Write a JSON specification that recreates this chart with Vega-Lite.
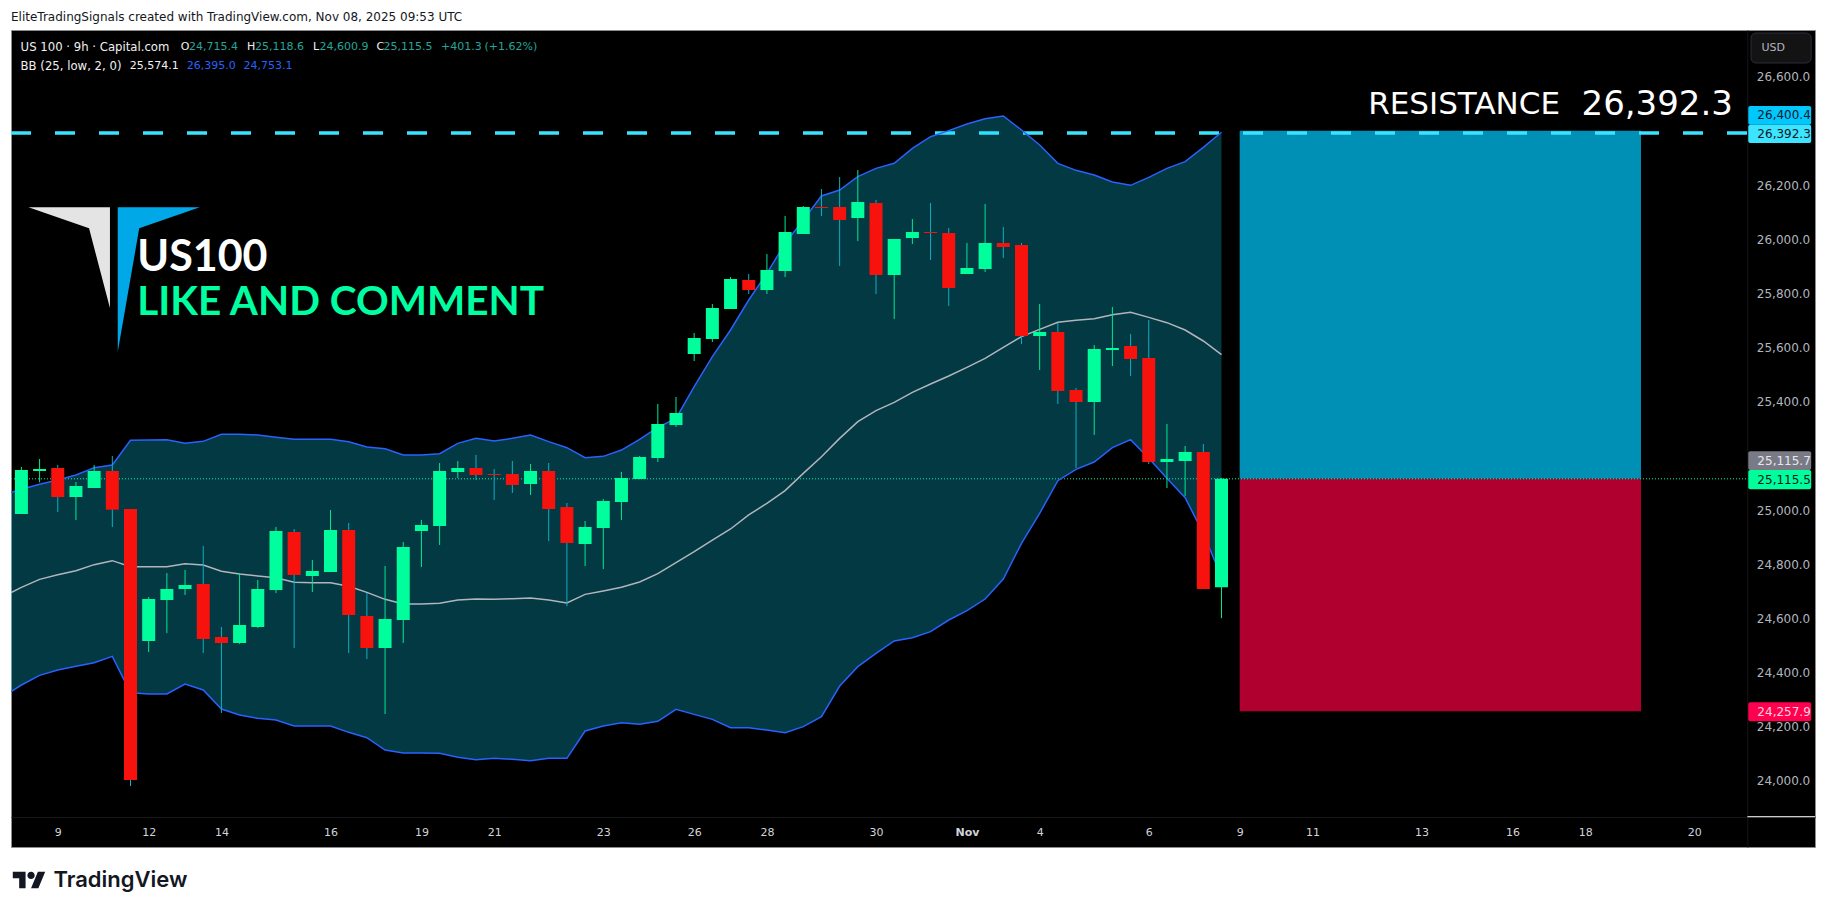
{"$schema":"https://vega.github.io/schema/vega-lite/v6.json","width":1804,"height":817,"autosize":{"type":"none"},"padding":{"left":11,"top":30,"right":11,"bottom":66},"background":"#ffffff","view":{"fill":"#000000","stroke":"#8c8c8c"},"config":{"scale":{"continuousPadding":0}},"resolve":{"scale":{"color":"independent"},"axis":{"x":"independent","y":"independent"}},
"datasets":{
"candles":[
{"i":0,"o":24985.6,"h":25159.1,"l":24985.6,"c":25148.1,"dir":"up"},{"i":1,"o":25144.4,"h":25188.7,"l":25102.5,"c":25151.8,"dir":"up"},{"i":2,"o":25155.5,"h":25166.5,"l":24993,"c":25048.4,"dir":"down"},{"i":3,"o":25048.4,"h":25103.8,"l":24963.5,"c":25089,"dir":"up"},{"i":4,"o":25081.6,"h":25166.5,"l":25081.6,"c":25144.4,"dir":"up"},{"i":5,"o":25144.4,"h":25199.8,"l":24937.6,"c":25001.6,"dir":"down"},{"i":6,"o":25004.1,"h":25004.1,"l":23981.4,"c":24003.6,"dir":"down"},{"i":7,"o":24516.8,"h":24679.2,"l":24476.2,"c":24671.8,"dir":"up"},{"i":8,"o":24668.1,"h":24767.8,"l":24546.3,"c":24708.7,"dir":"up"},{"i":9,"o":24708.7,"h":24778.9,"l":24686.6,"c":24723.5,"dir":"up"},
{"i":10,"o":24727.2,"h":24867.5,"l":24472.5,"c":24524.2,"dir":"down"},{"i":11,"o":24531.5,"h":24568.5,"l":24251,"c":24509.4,"dir":"down"},{"i":12,"o":24509.4,"h":24767.8,"l":24505.7,"c":24575.8,"dir":"up"},{"i":13,"o":24568.5,"h":24742,"l":24564.8,"c":24708.7,"dir":"up"},{"i":14,"o":24705,"h":24937.6,"l":24694,"c":24922.9,"dir":"up"},{"i":15,"o":24919.2,"h":24930.3,"l":24490.9,"c":24760.4,"dir":"down"},{"i":16,"o":24756.7,"h":24815.8,"l":24697.7,"c":24775.2,"dir":"up"},{"i":17,"o":24771.5,"h":25000.4,"l":24771.5,"c":24926.6,"dir":"up"},{"i":18,"o":24926.6,"h":24952.4,"l":24472.5,"c":24612.8,"dir":"down"},{"i":19,"o":24609.1,"h":24694,"l":24450.3,"c":24490.9,"dir":"down"},
{"i":20,"o":24490.9,"h":24793.7,"l":24247.3,"c":24598,"dir":"up"},{"i":21,"o":24594.3,"h":24882.3,"l":24509.4,"c":24863.8,"dir":"up"},{"i":22,"o":24922.9,"h":24963.5,"l":24790,"c":24945,"dir":"up"},{"i":23,"o":24941.3,"h":25173.9,"l":24871.2,"c":25144.4,"dir":"up"},{"i":24,"o":25140.7,"h":25181.3,"l":25118.5,"c":25155.5,"dir":"up"},{"i":25,"o":25155.5,"h":25203.4,"l":25111.2,"c":25129.6,"dir":"down"},{"i":26,"o":25133.3,"h":25151.8,"l":25037.3,"c":25129.6,"dir":"down"},{"i":27,"o":25133.3,"h":25181.3,"l":25063.2,"c":25092.7,"dir":"down"},{"i":28,"o":25096.4,"h":25170.2,"l":25055.8,"c":25144.4,"dir":"up"},{"i":29,"o":25144.4,"h":25173.9,"l":24886,"c":25004.1,"dir":"down"},
{"i":30,"o":25011.5,"h":25026.2,"l":24646,"c":24878.6,"dir":"down"},{"i":31,"o":24874.9,"h":24959.8,"l":24793.7,"c":24937.6,"dir":"up"},{"i":32,"o":24934,"h":25041,"l":24782.6,"c":25033.6,"dir":"up"},{"i":33,"o":25029.9,"h":25140.7,"l":24963.5,"c":25118.5,"dir":"up"},{"i":34,"o":25114.9,"h":25199.8,"l":25113.6,"c":25196.1,"dir":"up"},{"i":35,"o":25192.4,"h":25391.7,"l":25177.6,"c":25317.9,"dir":"up"},{"i":36,"o":25314.1,"h":25417.5,"l":25306.7,"c":25358.4,"dir":"up"},{"i":37,"o":25576.2,"h":25653.8,"l":25550.4,"c":25635.3,"dir":"up"},{"i":38,"o":25631.6,"h":25760.8,"l":25620.6,"c":25746.1,"dir":"up"},{"i":39,"o":25742.4,"h":25860.5,"l":25742.4,"c":25853.2,"dir":"up"},
{"i":40,"o":25849.5,"h":25871.6,"l":25797.8,"c":25812.5,"dir":"down"},{"i":41,"o":25812.5,"h":25945.4,"l":25797.8,"c":25886.4,"dir":"up"},{"i":42,"o":25882.7,"h":26085.7,"l":25860.5,"c":26026.7,"dir":"up"},{"i":43,"o":26019.3,"h":26122.6,"l":26019.3,"c":26118.9,"dir":"up"},{"i":44,"o":26118.9,"h":26185.4,"l":26085.7,"c":26115.3,"dir":"down"},{"i":45,"o":26118.9,"h":26229.7,"l":25901.1,"c":26071,"dir":"down"},{"i":46,"o":26078.3,"h":26255.6,"l":25993.4,"c":26137.4,"dir":"up"},{"i":47,"o":26133.7,"h":26144.8,"l":25797.8,"c":25867.9,"dir":"down"},{"i":48,"o":25867.9,"h":26000.8,"l":25705.5,"c":26000.8,"dir":"up"},{"i":49,"o":26004.5,"h":26074.7,"l":25982.4,"c":26026.7,"dir":"up"},
{"i":50,"o":26026.7,"h":26133.7,"l":25923.3,"c":26023,"dir":"down"},{"i":51,"o":26023,"h":26041.4,"l":25753.5,"c":25819.9,"dir":"down"},{"i":52,"o":25871.6,"h":25986,"l":25871.6,"c":25893.8,"dir":"up"},{"i":53,"o":25890.1,"h":26130,"l":25879,"c":25986,"dir":"up"},{"i":54,"o":25986,"h":26045,"l":25930.7,"c":25971.3,"dir":"down"},{"i":55,"o":25978.7,"h":25986,"l":25613.2,"c":25642.7,"dir":"down"},{"i":56,"o":25642.7,"h":25760.8,"l":25517.2,"c":25657.5,"dir":"up"},{"i":57,"o":25657.5,"h":25690.7,"l":25391.7,"c":25439.6,"dir":"down"},{"i":58,"o":25443.4,"h":25450.7,"l":25155.4,"c":25399,"dir":"down"},{"i":59,"o":25399,"h":25609.5,"l":25277.2,"c":25594.7,"dir":"up"},
{"i":60,"o":25591,"h":25749.8,"l":25531.9,"c":25598.4,"dir":"up"},{"i":61,"o":25605.8,"h":25650.1,"l":25495,"c":25557.8,"dir":"down"},{"i":62,"o":25561.5,"h":25701.8,"l":25170.2,"c":25177.6,"dir":"down"},{"i":63,"o":25177.6,"h":25317.8,"l":25081.6,"c":25188.7,"dir":"up"},{"i":64,"o":25181.2,"h":25236.6,"l":25052.1,"c":25214.5,"dir":"up"},{"i":65,"o":25214.5,"h":25244,"l":24708.7,"c":24708.7,"dir":"down"},{"i":66,"o":24715.4,"h":25118.6,"l":24600.9,"c":25115.5,"dir":"up"}],
"bb":[
{"i":-1,"upper":25055.8,"basis":24680.4,"lower":24311.3},{"i":0,"upper":25076.7,"basis":24714.9,"lower":24354.3},{"i":1,"upper":25095.2,"basis":24744.4,"lower":24390},{"i":2,"upper":25111.2,"basis":24761.7,"lower":24409.7},{"i":3,"upper":25129.6,"basis":24776.4,"lower":24423.3},{"i":4,"upper":25156.7,"basis":24798.6,"lower":24436.8},{"i":5,"upper":25166.5,"basis":24813.4,"lower":24460.2},{"i":6,"upper":25257.6,"basis":24791.2,"lower":24326},{"i":7,"upper":25258.8,"basis":24791.2,"lower":24321.1},{"i":8,"upper":25260.1,"basis":24791.2,"lower":24321.1},{"i":9,"upper":25246.5,"basis":24802.3,"lower":24358},
{"i":10,"upper":25253.9,"basis":24797.3,"lower":24335.9},{"i":11,"upper":25279.7,"basis":24774,"lower":24265.8},{"i":12,"upper":25279.7,"basis":24764.1,"lower":24243.6},{"i":13,"upper":25277.3,"basis":24756.7,"lower":24231.3},{"i":14,"upper":25268.7,"basis":24750.6,"lower":24225.1},{"i":15,"upper":25261.3,"basis":24733.3,"lower":24203},{"i":16,"upper":25261.3,"basis":24732.1,"lower":24203},{"i":17,"upper":25261.3,"basis":24732.1,"lower":24203},{"i":18,"upper":25252.7,"basis":24718.6,"lower":24179.6},{"i":19,"upper":25233,"basis":24696.4,"lower":24159.9},
{"i":20,"upper":25226.8,"basis":24670.6,"lower":24114.4},{"i":21,"upper":25203.4,"basis":24653.4,"lower":24103.3},{"i":22,"upper":25203.4,"basis":24653.4,"lower":24103.3},{"i":23,"upper":25208.4,"basis":24655.8,"lower":24102.1},{"i":24,"upper":25246.5,"basis":24668.1,"lower":24087.3},{"i":25,"upper":25265,"basis":24671.8,"lower":24078.7},{"i":26,"upper":25255.1,"basis":24670.6,"lower":24083.6},{"i":27,"upper":25265,"basis":24673,"lower":24079.9},{"i":28,"upper":25277.3,"basis":24675.5,"lower":24075},{"i":29,"upper":25252.7,"basis":24668.1,"lower":24083.6},
{"i":30,"upper":25230.5,"basis":24657,"lower":24083.6},{"i":31,"upper":25193.6,"basis":24689,"lower":24184.5},{"i":32,"upper":25198.5,"basis":24701.4,"lower":24203},{"i":33,"upper":25221.8,"basis":24714.9,"lower":24215.3},{"i":34,"upper":25261.2,"basis":24734.6,"lower":24209.1},{"i":35,"upper":25305.5,"basis":24765.3,"lower":24220.2},{"i":36,"upper":25338.7,"basis":24806,"lower":24264.5},{"i":37,"upper":25455.7,"basis":24846.6,"lower":24246},{"i":38,"upper":25566.4,"basis":24889.6,"lower":24227.6},{"i":39,"upper":25664.9,"basis":24930.3,"lower":24196.8},
{"i":40,"upper":25775.6,"basis":24982,"lower":24196.8},{"i":41,"upper":25874.1,"basis":25025,"lower":24188.2},{"i":42,"upper":25984.8,"basis":25071.8,"lower":24178.4},{"i":43,"upper":26071,"basis":25135.7,"lower":24200.5},{"i":44,"upper":26159.6,"basis":25197.2,"lower":24237.4},{"i":45,"upper":26181.7,"basis":25264.9,"lower":24350.6},{"i":46,"upper":26231,"basis":25326.4,"lower":24422},{"i":47,"upper":26261.7,"basis":25367.1,"lower":24471.2},{"i":48,"upper":26280.2,"basis":25397.8,"lower":24516.8},{"i":49,"upper":26335.5,"basis":25434.7,"lower":24529.1},
{"i":50,"upper":26378.6,"basis":25465.5,"lower":24551.2},{"i":51,"upper":26400.8,"basis":25495,"lower":24594.3},{"i":52,"upper":26425.4,"basis":25527,"lower":24628.8},{"i":53,"upper":26445.1,"basis":25560.2,"lower":24671.8},{"i":54,"upper":26454.9,"basis":25600.9,"lower":24745.7},{"i":55,"upper":26403.2,"basis":25640.3,"lower":24877.4},{"i":56,"upper":26347.8,"basis":25667.4,"lower":24988.1},{"i":57,"upper":26280.2,"basis":25693.2,"lower":25108.7},{"i":58,"upper":26254.3,"basis":25700.6,"lower":25150.5},{"i":59,"upper":26237.1,"basis":25706.7,"lower":25177.6},
{"i":60,"upper":26211.3,"basis":25721.5,"lower":25230.5},{"i":61,"upper":26199,"basis":25730.1,"lower":25260},{"i":62,"upper":26228.5,"basis":25711.6,"lower":25191.1},{"i":63,"upper":26261.7,"basis":25692,"lower":25117.3},{"i":64,"upper":26286.3,"basis":25664.9,"lower":25045.9},{"i":65,"upper":26339.2,"basis":25624.3,"lower":24914.3},{"i":66,"upper":26395,"basis":25574.1,"lower":24753.1}],
"small":[
{"t":"O","i":8.76,"price":26710.8,"kind":"white"},{"t":"24,715.4","i":9.22,"price":26710.8,"kind":"teal"},{"t":"H","i":12.41,"price":26710.8,"kind":"white"},{"t":"25,118.6","i":12.85,"price":26710.8,"kind":"teal"},{"t":"L","i":16.04,"price":26710.8,"kind":"white"},{"t":"24,600.9","i":16.4,"price":26710.8,"kind":"teal"},{"t":"C","i":19.53,"price":26710.8,"kind":"white"},{"t":"25,115.5","i":19.92,"price":26710.8,"kind":"teal"},{"t":"+401.3","i":23.08,"price":26710.8,"kind":"teal"},{"t":"(+1.62%)","i":25.47,"price":26710.8,"kind":"teal"},
{"t":"25,574.1","i":5.957,"price":26640.6,"kind":"white"},{"t":"26,395.0","i":9.09,"price":26640.6,"kind":"blue"},{"t":"24,753.1","i":12.22,"price":26640.6,"kind":"blue"},
{"t":"USD","i":95.7,"price":26706,"kind":"grey"}],
"tags":[
{"t":"26,400.4","i0":94.97,"i1":98.43,"it":95.47,"top":26491.8,"bot":26422.8,"mid":26457.5,"kind":"A"},
{"t":"26,392.3","i0":94.97,"i1":98.43,"it":95.47,"top":26422.8,"bot":26355.2,"mid":26389,"kind":"B"},
{"t":"25,115.7","i0":94.97,"i1":98.43,"it":95.47,"top":25217,"bot":25148,"mid":25182.7,"kind":"C"},
{"t":"25,115.5","i0":94.97,"i1":98.43,"it":95.47,"top":25148,"bot":25076.8,"mid":25112.6,"kind":"D"},
{"t":"24,257.9","i0":94.97,"i1":98.43,"it":95.47,"top":24290.5,"bot":24220.4,"mid":24255.4,"kind":"E"}],
"boxes":[{"i0":67,"i1":89.07,"top":26400.4,"bot":25115.5,"kind":"target"},{"i0":67,"i1":89.07,"top":25115.5,"bot":24257.9,"kind":"stop"}]
},
"layer":[
{"data":{"name":"boxes"},"mark":{"type":"rect"},"encoding":{"x":{"field":"i0","type":"quantitative","scale":{"domain":[-0.572,98.64],"nice":false,"zero":false},"axis":{"title":null,"orient":"bottom","offset":-30,"values":[2,7,11,17,22,26,32,37,41,47,52,56,62,67,71,77,82,86,92],"labelExpr":"({'2':'9','7':'12','11':'14','17':'16','22':'19','26':'21','32':'23','37':'26','41':'28','47':'30','52':'Nov','56':'4','62':'6','67':'9','71':'11','77':'13','82':'16','86':'18','92':'20'})[datum.value]","labelFont":"DejaVu Sans","labelFontSize":11,"labelColor":"#d1d4dc","labelFontWeight":{"condition":{"test":"datum.value===52","value":"bold"},"value":"normal"},"labelPadding":9,"labelOverlap":false,"labelBound":false,"labelFlush":false,"ticks":false,"grid":false,"domain":true,"domainColor":"#161616"}},"x2":{"field":"i1"},"y":{"field":"top","type":"quantitative","scale":{"domain":[23756.3,26772.4],"nice":false,"zero":false},"axis":{"title":null,"orient":"right","offset":-67.7,"values":[24000,24200,24400,24600,24800,25000,25400,25600,25800,26000,26200,26600],"format":",.1f","labelFont":"DejaVu Sans","labelFontSize":12,"labelColor":"#b2b5be","labelAlign":"left","labelPadding":9,"labelOverlap":false,"labelBound":false,"labelFlush":false,"ticks":false,"grid":false,"domain":true,"domainColor":"#161616"}},"y2":{"field":"bot"},"color":{"field":"kind","type":"nominal","scale":{"domain":["target","stop"],"range":["#008fb5","#b00030"]},"legend":null}}},
{"data":{"values":[{"from":-0.572,"to":94.92,"price":26392.3}]},"mark":{"type":"rule","color":"#38e4ff","strokeWidth":3.5,"strokeDash":[20,24]},"encoding":{"x":{"field":"from","type":"quantitative","axis":null},"x2":{"field":"to"},"y":{"field":"price","type":"quantitative","axis":null}}},
{"data":{"values":[{"from":-0.572,"to":94.92,"price":25115.5}]},"mark":{"type":"rule","color":"#00ffa0","strokeWidth":1,"strokeDash":[1,2]},"encoding":{"x":{"field":"from","type":"quantitative","axis":null},"x2":{"field":"to"},"y":{"field":"price","type":"quantitative","axis":null}}},
{"data":{"values":[{"from":94.92,"to":98.64,"price":23868.1}]},"mark":{"type":"rule","color":"#ffffff","strokeWidth":1},"encoding":{"x":{"field":"from","type":"quantitative","axis":null},"x2":{"field":"to"},"y":{"field":"price","type":"quantitative","axis":null}}},
{"data":{"name":"bb"},"mark":{"type":"area","color":"#08dcff","opacity":0.26,"clip":true},"encoding":{"x":{"field":"i","type":"quantitative","axis":null},"y":{"field":"upper","type":"quantitative","axis":null},"y2":{"field":"lower"}}},
{"data":{"name":"bb"},"mark":{"type":"line","color":"#2962ff","strokeWidth":1.5,"clip":true},"encoding":{"x":{"field":"i","type":"quantitative","axis":null},"y":{"field":"upper","type":"quantitative","axis":null}}},
{"data":{"name":"bb"},"mark":{"type":"line","color":"#2962ff","strokeWidth":1.5,"clip":true},"encoding":{"x":{"field":"i","type":"quantitative","axis":null},"y":{"field":"lower","type":"quantitative","axis":null}}},
{"data":{"name":"bb"},"mark":{"type":"line","color":"#b2b5be","strokeWidth":1.5,"clip":true},"encoding":{"x":{"field":"i","type":"quantitative","axis":null},"y":{"field":"basis","type":"quantitative","axis":null}}},
{"data":{"name":"candles"},"mark":{"type":"rule","strokeWidth":1},"encoding":{"x":{"field":"i","type":"quantitative","axis":null},"y":{"field":"h","type":"quantitative","axis":null},"y2":{"field":"l"},"color":{"field":"dir","type":"nominal","scale":{"domain":["up","down"],"range":["#00e894","#10aec4"]},"legend":null}}},
{"data":{"name":"candles"},"mark":{"type":"bar","size":13},"encoding":{"x":{"field":"i","type":"quantitative","axis":null},"y":{"field":"o","type":"quantitative","axis":null},"y2":{"field":"c"},"color":{"field":"dir","type":"nominal","scale":{"domain":["up","down"],"range":["#00ff9c","#f7120e"]},"legend":null}}},
{"data":{"values":[{"i":0.39,"top":26117.9,"bottom":26117.9},{"i":3.72,"top":26117.9,"bottom":26040.3},{"i":4.87,"top":26117.9,"bottom":25746.1}]},"mark":{"type":"area","color":"#e4e4e4"},"encoding":{"x":{"field":"i","type":"quantitative","axis":null},"y":{"field":"top","type":"quantitative","axis":null},"y2":{"field":"bottom"}}},
{"data":{"values":[{"i":5.3,"top":26117.9,"bottom":25584.8},{"i":6.48,"top":26117.9,"bottom":26040.3},{"i":9.81,"top":26117.9,"bottom":26117.9}]},"mark":{"type":"area","color":"#00a8e8"},"encoding":{"x":{"field":"i","type":"quantitative","axis":null},"y":{"field":"top","type":"quantitative","axis":null},"y2":{"field":"bottom"}}},
{"data":{"values":[{"t":"US100","i":6.37,"price":25929}]},"mark":{"type":"text","align":"left","baseline":"middle","font":"Lato","fontWeight":"bold","fontSize":43,"color":"#ffffff"},"encoding":{"x":{"field":"i","type":"quantitative","axis":null},"y":{"field":"price","type":"quantitative","axis":null},"text":{"field":"t"}}},
{"data":{"values":[{"t":"LIKE AND COMMENT","i":6.37,"price":25766}]},"mark":{"type":"text","align":"left","baseline":"middle","font":"Lato","fontWeight":"bold","fontSize":40.5,"color":"#00ffa0"},"encoding":{"x":{"field":"i","type":"quantitative","axis":null},"y":{"field":"price","type":"quantitative","axis":null},"text":{"field":"t"}}},
{"data":{"values":[{"t":"RESISTANCE","i":74.07,"price":26495}]},"mark":{"type":"text","align":"left","baseline":"middle","font":"DejaVu Sans","fontSize":31,"color":"#ffffff"},"encoding":{"x":{"field":"i","type":"quantitative","axis":null},"y":{"field":"price","type":"quantitative","axis":null},"text":{"field":"t"}}},
{"data":{"values":[{"t":"26,392.3","i":85.8,"price":26495}]},"mark":{"type":"text","align":"left","baseline":"middle","font":"DejaVu Sans","fontSize":34,"color":"#ffffff"},"encoding":{"x":{"field":"i","type":"quantitative","axis":null},"y":{"field":"price","type":"quantitative","axis":null},"text":{"field":"t"}}},
{"data":{"values":[{"i0":95.12,"i1":98.43,"top":26761.3,"bot":26650.6}]},"mark":{"type":"rect","fill":"#131313","stroke":"#2a2e39","cornerRadius":5},"encoding":{"x":{"field":"i0","type":"quantitative","axis":null},"x2":{"field":"i1"},"y":{"field":"top","type":"quantitative","axis":null},"y2":{"field":"bot"}}},
{"data":{"name":"tags"},"mark":{"type":"rect","cornerRadius":2},"encoding":{"x":{"field":"i0","type":"quantitative","axis":null},"x2":{"field":"i1"},"y":{"field":"top","type":"quantitative","axis":null},"y2":{"field":"bot"},"color":{"field":"kind","type":"nominal","scale":{"domain":["A","B","C","D","E"],"range":["#00c8ff","#3ce4ff","#787b86","#00ff9c","#ff0050"]},"legend":null}}},
{"data":{"name":"tags"},"mark":{"type":"text","align":"left","baseline":"middle","font":"DejaVu Sans","fontSize":12},"encoding":{"x":{"field":"it","type":"quantitative","axis":null},"y":{"field":"mid","type":"quantitative","axis":null},"text":{"field":"t"},"color":{"field":"kind","type":"nominal","scale":{"domain":["A","B","C","D","E"],"range":["#131722","#131722","#e8e8ea","#131722","#ffd0dc"]},"legend":null}}},
{"data":{"name":"small"},"mark":{"type":"text","align":"left","baseline":"middle","font":"DejaVu Sans","fontSize":11},"encoding":{"x":{"field":"i","type":"quantitative","axis":null},"y":{"field":"price","type":"quantitative","axis":null},"text":{"field":"t"},"color":{"field":"kind","type":"nominal","scale":{"domain":["white","teal","blue","grey"],"range":["#f0f0f0","#26a69a","#2962ff","#b2b5be"]},"legend":null}}},
{"data":{"values":[{"t":"US 100 · 9h · Capital.com","i":-0.044,"price":26710.8},{"t":"BB (25, low, 2, 0)","i":-0.044,"price":26640.6}]},"mark":{"type":"text","align":"left","baseline":"middle","font":"DejaVu Sans","fontSize":11.7,"color":"#f0f0f0"},"encoding":{"x":{"field":"i","type":"quantitative","axis":null},"y":{"field":"price","type":"quantitative","axis":null},"text":{"field":"t"}}},
{"data":{"values":[{"t":"EliteTradingSignals created with TradingView.com, Nov 08, 2025 09:53 UTC","i":-0.572,"price":26821.5}]},"mark":{"type":"text","align":"left","baseline":"middle","font":"DejaVu Sans","fontSize":12,"color":"#131722"},"encoding":{"x":{"field":"i","type":"quantitative","axis":null},"y":{"field":"price","type":"quantitative","axis":null},"text":{"field":"t"}}},
{"data":{"values":[{"i":0.43,"price":23634.4}]},"mark":{"type":"point","filled":true,"opacity":1,"color":"#131722","size":1080,"shape":"M-0.222 0.5H-0.611V-0.111H-1V-0.5H-0.222ZM0.556 0.5H0.111L0.528 -0.5H0.972ZM-0.111 -0.278A0.222 0.222 0 1 1 0.333 -0.278A0.222 0.222 0 1 1 -0.111 -0.278Z"},"encoding":{"x":{"field":"i","type":"quantitative","axis":null},"y":{"field":"price","type":"quantitative","axis":null}}},
{"data":{"values":[{"t":"TradingView","i":1.76,"price":23634.4}]},"mark":{"type":"text","align":"left","baseline":"middle","font":"Inter","fontWeight":600,"fontSize":22,"color":"#131722"},"encoding":{"x":{"field":"i","type":"quantitative","axis":null},"y":{"field":"price","type":"quantitative","axis":null},"text":{"field":"t"}}}
]}
